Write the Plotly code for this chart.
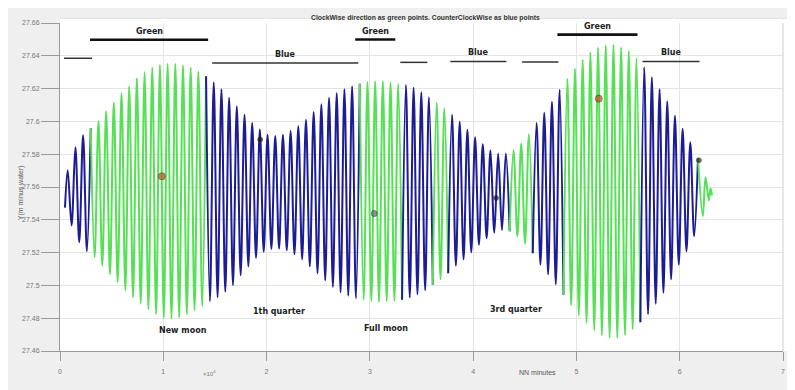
import numpy as np
import plotly.graph_objects as go
from bisect import bisect

# ---------------- data ----------------
# water level at successive high waters (m)
high_water = [27.5702, 27.5842, 27.5915, 27.5958, 27.6001, 27.6062, 27.6116, 27.6171, 27.6214, 27.6263,
              27.6299, 27.6327, 27.6345, 27.6352, 27.6352, 27.6342, 27.6327, 27.6305, 27.6275, 27.6238,
              27.6196, 27.6144, 27.6092, 27.6040, 27.5991, 27.5950, 27.5919, 27.5911, 27.5919, 27.5941,
              27.5970, 27.6010, 27.6058, 27.6104, 27.6144, 27.6173, 27.6196, 27.6214, 27.6230, 27.6241,
              27.6245, 27.6245, 27.6238, 27.6229, 27.6223, 27.6205, 27.6177, 27.6147, 27.6116, 27.6080,
              27.6040, 27.5998, 27.5949, 27.5903, 27.5860, 27.5824, 27.5804, 27.5805, 27.5824, 27.5866,
              27.5921, 27.5991, 27.6052, 27.6120, 27.6193, 27.6260, 27.6321, 27.6376, 27.6421, 27.6450,
              27.6464, 27.6468, 27.6452, 27.6430, 27.6385, 27.6330, 27.6269, 27.6196, 27.6123, 27.6034,
              27.5955, 27.5873, 27.5775]
# water level at successive low waters (m)
low_water = [27.5366, 27.5263, 27.5208, 27.5171, 27.5120, 27.5068, 27.5019, 27.4970, 27.4927, 27.4888,
             27.4854, 27.4824, 27.4802, 27.4798, 27.4805, 27.4824, 27.4848, 27.4873, 27.4903, 27.4927,
             27.4961, 27.5001, 27.5062, 27.5116, 27.5168, 27.5205, 27.5223, 27.5224, 27.5214, 27.5190,
             27.5159, 27.5116, 27.5074, 27.5031, 27.4991, 27.4958, 27.4937, 27.4921, 27.4912, 27.4903,
             27.4899, 27.4903, 27.4906, 27.4912, 27.4926, 27.4946, 27.4970, 27.5004, 27.5037, 27.5074,
             27.5120, 27.5159, 27.5202, 27.5248, 27.5287, 27.5321, 27.5336, 27.5330, 27.5299, 27.5254,
             27.5196, 27.5126, 27.5068, 27.5007, 27.4943, 27.4879, 27.4818, 27.4772, 27.4726, 27.4696,
             27.4680, 27.4680, 27.4696, 27.4732, 27.4775, 27.4824, 27.4888, 27.4955, 27.5037, 27.5126,
             27.5208, 27.5300]
start_time = 484          # minutes
start_level = 27.5474
first_high_time = 746     # minutes
half_tide = 372.1         # minutes between a high and the next low water
tail_times = [62238, 62500, 62820, 62984, 63130]
tail_levels = [27.5421, 27.5659, 27.5519, 27.5592, 27.5549]

# rotation direction changes (minutes); first stretch is counter-clockwise (blue)
direction_changes = [3149, 14245, 29167, 32946, 35998, 37452, 43702, 45736, 48740, 56298, 61870]
direction_colors = ["#1c1c97", "#55e055"]

# highlighted points
dot_x = [9855, 19380, 30426, 42219, 52161, 61851]
dot_y = [27.5665, 27.5889, 27.5438, 27.5533, 27.6139, 27.5763]
dot_colors = ["#c4531c", "#151515", "#6d5f80", "#141433", "#c4531c", "#102a14"]
dot_sizes = [7, 5, 6, 5, 7, 5]

# direction bars: (label, start, end, level, thick)
bars = [("", 388, 3101, 27.6385, False),
        ("Green", 2907, 14341, 27.6498, True),
        ("Blue", 14729, 28876, 27.6356, False),
        ("Green", 28585, 32461, 27.6499, True),
        ("", 32946, 35562, 27.6360, False),
        ("Blue", 37791, 43217, 27.6366, False),
        ("", 44738, 48256, 27.6362, False),
        ("Green", 48159, 55911, 27.6529, True),
        ("Blue", 56395, 61919, 27.6366, False)]

moon_labels = ["New moon", "1th quarter", "Full moon", "3rd quarter"]
moon_x = [11919, 21172, 31541, 44186]
moon_y = [27.4726, 27.4838, 27.4740, 27.4852]

x_ticks = [0, 10000, 20000, 30000, 40000, 50000, 60000, 70000]
x_ticktext = ["0", "1", "2", "3", "4", "5", "6", "7"]
y_ticks = [27.46, 27.48, 27.5, 27.52, 27.54, 27.56, 27.58, 27.6, 27.62, 27.64, 27.66]
y_ticktext = ["27.46", "27.48", "27.5", "27.52", "27.54", "27.56", "27.58", "27.6", "27.62", "27.64", "27.66"]

# ---------------- build the series ----------------
t = [start_time]
v = [start_level]
for k, hv in enumerate(high_water):
    t.append(first_high_time + 2 * half_tide * k)
    v.append(hv)
    if k < len(low_water):
        t.append(first_high_time + half_tide + 2 * half_tide * k)
        v.append(low_water[k])
t += tail_times
v += tail_levels

fig = go.Figure()

# group half-cycles into runs of the same direction
runs = []
cur = None
for i in range(len(t) - 1):
    mid = 0.5 * (t[i] + t[i + 1])
    c = bisect(direction_changes, mid) % 2
    if cur is None or c != cur[0]:
        cur = [c, [t[i]], [v[i]]]
        runs.append(cur)
    cur[1].append(t[i + 1])
    cur[2].append(v[i + 1])

for c, xs, ys in runs:
    fig.add_trace(go.Scatter(x=xs, y=ys, mode="lines",
                             line=dict(color=direction_colors[c], width=2.0, shape="spline", smoothing=1),
                             hoverinfo="skip", showlegend=False))

fig.add_trace(go.Scatter(x=dot_x, y=dot_y, mode="markers",
                         marker=dict(color=dot_colors, size=dot_sizes,
                                     line=dict(color="#3a2a1a", width=0.8)),
                         showlegend=False, hoverinfo="skip"))

# page body adds an 8 px offset; plot area placed at screen x 60..782.7, y 22.7..350.7
PW, PH = 722.7, 328.0


def px(sx):
    return (sx - 60) / PW


def py(sy):
    return (350.7 - sy) / PH


shapes = [dict(type="rect", xref="paper", yref="paper", x0=0, x1=px(790), y0=0, y1=py(18),
               fillcolor="white", line=dict(width=0), layer="below"),
          dict(type="line", xref="paper", yref="paper", x0=1.0, x1=1.0, y0=0, y1=1.0,
               line=dict(color="#d0d0d0", width=1)),
          dict(type="line", xref="paper", yref="paper", x0=px(790), x1=px(790), y0=0, y1=py(18),
               line=dict(color="#d8d8d8", width=1)),
          dict(type="line", xref="paper", yref="paper", x0=0, x1=px(790), y0=py(18), y1=py(18),
               line=dict(color="#e0e0e0", width=1))]
annotations = []
for label, x0, x1, lvl, thick in bars:
    shapes.append(dict(type="line", xref="x", yref="y", x0=x0, x1=x1, y0=lvl, y1=lvl,
                       line=dict(color="#111111" if thick else "#333333", width=2.6 if thick else 1.5)))
    if label:
        annotations.append(dict(x=0.5 * (x0 + x1), y=lvl, xref="x", yref="y", text=label,
                                showarrow=False, yanchor="bottom", yshift=2,
                                font=dict(family="DejaVu Sans", size=8, color="#222222", weight="bold")))
for lab, mx, my in zip(moon_labels, moon_x, moon_y):
    annotations.append(dict(x=mx, y=my, xref="x", yref="y", text=lab, showarrow=False,
                            font=dict(family="DejaVu Sans", size=8, color="#222222", weight="bold")))

annotations.append(dict(x=px(425), y=py(12), xref="paper", yref="paper",
                        text="ClockWise direction as green points. CounterClockWise as blue points",
                        showarrow=False,
                        font=dict(family="Liberation Sans", size=6.8, color="#333333", weight="bold")))
annotations.append(dict(x=px(15), y=py(192), xref="paper", yref="paper",
                        text="Y(m minus water)", textangle=-90, showarrow=False,
                        font=dict(family="Liberation Sans", size=7, color="#555555")))
annotations.append(dict(x=px(537), y=py(378), xref="paper", yref="paper",
                        text="NN minutes", showarrow=False,
                        font=dict(family="Liberation Sans", size=7, color="#555555")))
annotations.append(dict(x=px(201), y=py(379), xref="paper", yref="paper",
                        text="\u00d710<sup>4</sup>", showarrow=False,
                        font=dict(family="Liberation Sans", size=6, color="#777777")))

fig.update_layout(
    width=795, height=390, autosize=False,
    margin=dict(l=52, r=795 - 52 - PW, t=14.7, b=390 - 14.7 - PH, pad=0),
    paper_bgcolor="#efefef", plot_bgcolor="white",
    shapes=shapes, annotations=annotations,
    xaxis=dict(range=[0, 70000], tickvals=x_ticks, ticktext=x_ticktext,
               showgrid=True, gridcolor="#e4e4e4", gridwidth=1, zeroline=False,
               showline=True, linecolor="#9a9a9a", linewidth=1,
               ticks="outside", ticklen=9, tickcolor="#9a9a9a", ticklabelstandoff=5,
               tickfont=dict(family="Liberation Sans", size=7, color="#777777")),
    yaxis=dict(range=[27.46, 27.66], tickvals=y_ticks, ticktext=y_ticktext,
               showgrid=True, gridcolor="#e4e4e4", gridwidth=1, zeroline=False,
               showline=True, linecolor="#9a9a9a", linewidth=1,
               ticks="outside", ticklen=18, tickcolor="#9a9a9a",
               tickfont=dict(family="Liberation Sans", size=7, color="#777777")),
)

fig.write_html("out.html")
